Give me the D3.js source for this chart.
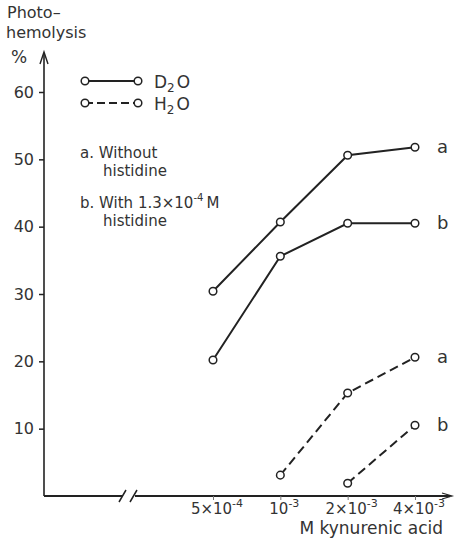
<!DOCTYPE html>
<html>
<head>
<meta charset="utf-8">
<script src="https://cdn.jsdelivr.net/npm/d3@7"></script>
<style>
  body { margin: 0; background: #fff; }
  svg text { font-family: 'DejaVu Sans', sans-serif; fill: #333; }
</style>
</head>
<body>
<div id="chart"></div>
<script>
// kynurenic acid concentration (M)
const conc = [5e-4, 1e-3, 2e-3, 4e-3]
const concLabels = [['5\u00d710', '-4'], ['10', '-3'], ['2\u00d710', '-3'], ['4\u00d710', '-3']]
// photohemolysis %
const d2oA = [30.4, 40.7, 50.6, 51.8]
const d2oB = [20.2, 35.6, 40.5, 40.5]
const h2oA = [null, 3.1, 15.3, 20.6]
const h2oB = [null, null, 1.9, 10.5]
const yTicks = [10, 20, 30, 40, 50, 60]

const w = 455
const h = 539
const ink = '#222'

const svg = d3.select('#chart').append('svg').attr('width', w).attr('height', h)

const x = d3.scaleLog().domain([5e-4, 4e-3]).range([213, 415])
const y = d3.scaleLinear().domain([0, 60]).range([496, 92])

// y axis
const yAxis = d3.axisLeft(y).tickValues(yTicks).tickSize(5).tickSizeOuter(0)
const gy = svg.append('g').attr('transform', 'translate(44,0)').call(yAxis)
gy.select('.domain').remove()
gy.selectAll('.tick line').attr('stroke', ink).attr('stroke-width', 1.5)
gy.selectAll('.tick text')
  .attr('x', -10)
  .style('font-size', '16px')
  .style('fill', '#333')
svg.append('line')
  .attr('x1', 44).attr('x2', 44)
  .attr('y1', y(0)).attr('y2', 54)
  .attr('stroke', ink).attr('stroke-width', 1.6)
svg.append('path')
  .attr('d', 'M40,64 L44,52 L48,64')
  .attr('fill', 'none').attr('stroke', ink).attr('stroke-width', 1.4)

// x axis with a break
const y0 = y(0)
svg.append('line').attr('x1', 44).attr('x2', 123).attr('y1', y0).attr('y2', y0)
  .attr('stroke', ink).attr('stroke-width', 1.8)
svg.append('line').attr('x1', 135).attr('x2', 450).attr('y1', y0).attr('y2', y0)
  .attr('stroke', ink).attr('stroke-width', 1.8)
svg.append('path')
  .attr('d', 'M119,' + (y0 + 6) + ' L126,' + (y0 - 6) + ' M130,' + (y0 + 6) + ' L137,' + (y0 - 6))
  .attr('stroke', ink).attr('stroke-width', 1.5)
svg.append('path')
  .attr('d', 'M442,' + (y0 - 3) + ' L452,' + y0 + ' L442,' + (y0 + 3))
  .attr('fill', 'none').attr('stroke', ink).attr('stroke-width', 1.2)

const xAxis = d3.axisBottom(x).tickValues(conc).tickSize(4).tickFormat('')
const gx = svg.append('g').attr('transform', 'translate(0,' + y0 + ')').call(xAxis)
gx.select('.domain').remove()
gx.selectAll('.tick line').attr('stroke', '#777').attr('stroke-width', 1)

const xl = svg.append('g').selectAll('text').data(conc).join('text')
  .attr('x', (d) => x(d) + 4)
  .attr('y', 514)
  .attr('text-anchor', 'middle')
  .style('font-size', '15px')
xl.append('tspan').text((d, i) => concLabels[i][0])
xl.append('tspan').attr('dy', -7).style('font-size', '11px').text((d, i) => concLabels[i][1])

svg.append('text').text('M kynurenic acid')
  .attr('x', 443).attr('y', 534).attr('text-anchor', 'end')
  .style('font-size', '17px')

// y axis title
svg.append('text').text('Photo\u2013').attr('x', 7).attr('y', 18).style('font-size', '16px')
svg.append('text').text('hemolysis').attr('x', 6).attr('y', 38).style('font-size', '16px')
svg.append('text').text('%').attr('x', 11).attr('y', 63).style('font-size', '17px')

// series
const series = [
  { vals: d2oA, dash: null, tag: 'a' },
  { vals: d2oB, dash: null, tag: 'b' },
  { vals: h2oA, dash: '9,5', tag: 'a' },
  { vals: h2oB, dash: '9,5', tag: 'b' }
]
const line = d3.line()
  .defined((d) => d[1] != null)
  .x((d) => x(d[0]))
  .y((d) => y(d[1]))

series.forEach((s) => {
  const pts = conc.map((c, i) => [c, s.vals[i]])
  svg.append('path')
    .datum(pts)
    .attr('d', line)
    .attr('fill', 'none')
    .attr('stroke', ink)
    .attr('stroke-width', 2)
    .attr('stroke-dasharray', s.dash)
  svg.append('g').selectAll('circle')
    .data(pts.filter((d) => d[1] != null))
    .join('circle')
    .attr('cx', (d) => x(d[0]))
    .attr('cy', (d) => y(d[1]))
    .attr('r', 3.8)
    .attr('fill', '#fff')
    .attr('stroke', ink)
    .attr('stroke-width', 1.5)
  const last = pts[pts.length - 1]
  svg.append('text').text(s.tag)
    .attr('x', x(last[0]) + 22)
    .attr('y', y(last[1]) + 6)
    .style('font-size', '18px')
})

// legend
const legend = svg.append('g')
const legendItems = [
  { y: 81, dash: null, main: 'D', sub: '2', rest: 'O' },
  { y: 103, dash: '8,4', main: 'H', sub: '2', rest: 'O' }
]
legendItems.forEach((it) => {
  legend.append('line')
    .attr('x1', 85).attr('x2', 138).attr('y1', it.y).attr('y2', it.y)
    .attr('stroke', ink).attr('stroke-width', 2.2)
    .attr('stroke-dasharray', it.dash)
  ;[85, 138].forEach((cx) => {
    legend.append('circle').attr('cx', cx).attr('cy', it.y).attr('r', 3.8)
      .attr('fill', '#fff').attr('stroke', ink).attr('stroke-width', 1.5)
  })
  const t = legend.append('text').attr('x', 154).attr('y', it.y + 7).style('font-size', '17px')
  t.append('tspan').text(it.main)
  t.append('tspan').attr('dy', 4).style('font-size', '12px').text(it.sub)
  t.append('tspan').attr('dy', -4).attr('dx', 2).text(it.rest)
})

// notes
svg.append('text').text('a. Without').attr('x', 80).attr('y', 158).style('font-size', '15px')
svg.append('text').text('histidine').attr('x', 103).attr('y', 176).style('font-size', '15px')
const nb = svg.append('text').attr('x', 80).attr('y', 208).style('font-size', '15px')
nb.append('tspan').text('b. With  1.3\u00d710')
nb.append('tspan').attr('dy', -7).style('font-size', '10px').text('-4')
nb.append('tspan').attr('dy', 7).attr('dx', 3).text('M')
svg.append('text').text('histidine').attr('x', 103).attr('y', 226).style('font-size', '15px')
</script>
</body>
</html>
